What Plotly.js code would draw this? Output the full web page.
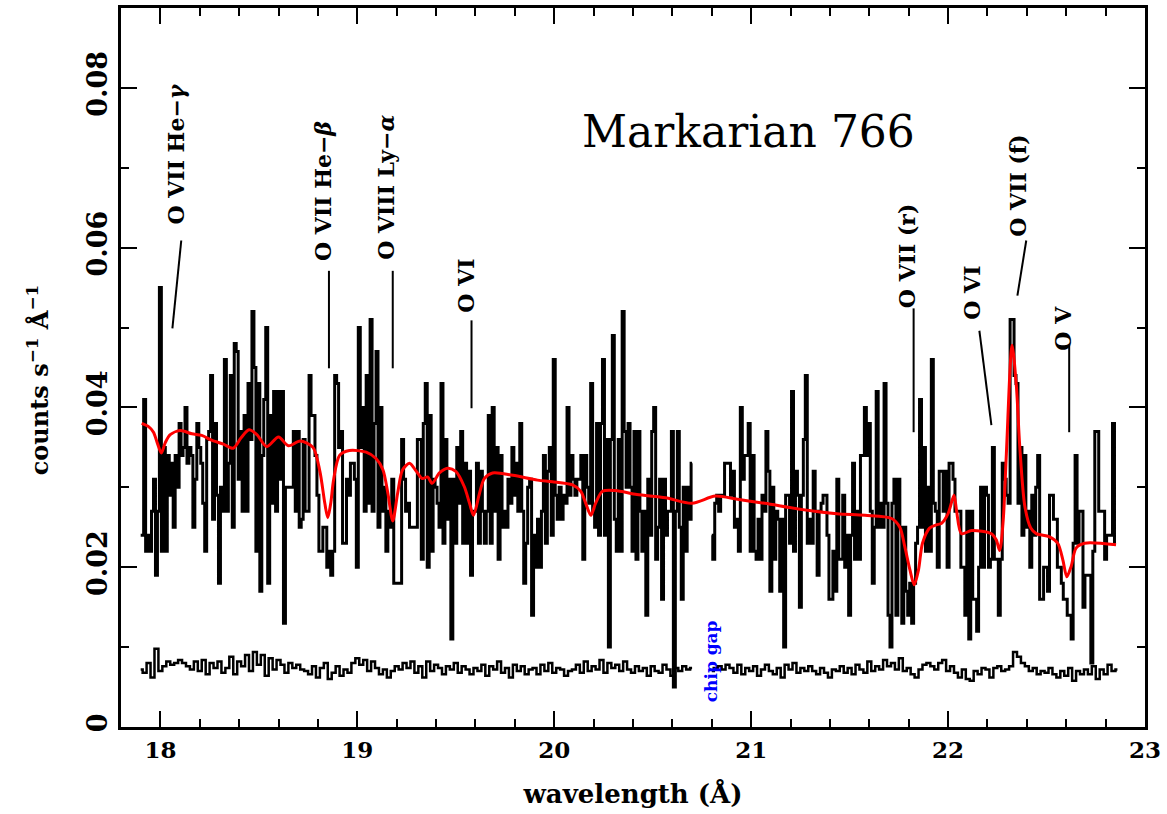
<!DOCTYPE html>
<html><head><meta charset="utf-8">
<script src="https://cdn.plot.ly/plotly-3.0.1.min.js"></script>
<style>html,body{margin:0;padding:0;background:#fff}#chart{width:1167px;height:814px}</style>
</head><body><div id="chart"></div>
<script>
// Source spectrum (counts s^-1 A^-1), bins of 0.01 A starting at 17.90 A
const specStart = 17.90, specStep = 0.01;
const spectrum = [
0.024,0.024,0.041,0.022,0.024,0.022,0.027,0.031,0.019,0.027,
0.055,0.022,0.035,0.022,0.034,0.029,0.033,0.025,0.034,0.030,
0.038,0.034,0.035,0.040,0.033,0.035,0.034,0.025,0.031,0.038,
0.035,0.033,0.028,0.022,0.036,0.037,0.044,0.026,0.038,0.029,
0.018,0.030,0.027,0.046,0.027,0.033,0.044,0.025,0.048,0.047,
0.031,0.037,0.027,0.039,0.027,0.043,0.036,0.052,0.045,0.022,
0.043,0.017,0.034,0.041,0.050,0.018,0.039,0.028,0.042,0.027,
0.042,0.031,0.042,0.013,0.030,0.030,0.030,0.030,0.037,0.027,
0.037,0.025,0.026,0.036,0.027,0.027,0.044,0.039,0.039,0.034,
0.029,0.022,0.022,0.025,0.025,0.020,0.022,0.019,0.022,0.044,
0.043,0.035,0.037,0.023,0.023,0.031,0.029,0.033,0.033,0.031,
0.020,0.050,0.035,0.040,0.027,0.044,0.028,0.051,0.027,0.038,
0.047,0.025,0.040,0.027,0.030,0.022,0.027,0.025,0.031,0.018,
0.018,0.018,0.018,0.036,0.031,0.027,0.028,0.025,0.025,0.025,
0.025,0.036,0.036,0.021,0.038,0.043,0.020,0.039,0.022,0.031,
0.030,0.028,0.025,0.043,0.023,0.036,0.026,0.031,0.011,0.031,
0.023,0.035,0.028,0.037,0.023,0.033,0.023,0.032,0.019,0.027,
0.027,0.033,0.023,0.032,0.027,0.023,0.027,0.039,0.023,0.040,
0.027,0.035,0.021,0.034,0.025,0.027,0.025,0.031,0.028,0.035,
0.029,0.033,0.027,0.038,0.027,0.018,0.023,0.030,0.031,0.014,
0.024,0.020,0.026,0.020,0.027,0.034,0.023,0.032,0.035,0.024,
0.046,0.029,0.026,0.030,0.026,0.029,0.028,0.040,0.029,0.034,
0.031,0.029,0.031,0.031,0.034,0.021,0.034,0.030,0.028,0.043,
0.027,0.025,0.038,0.024,0.038,0.046,0.024,0.036,0.010,0.036,
0.049,0.026,0.022,0.036,0.022,0.052,0.037,0.030,0.038,0.030,
0.022,0.037,0.021,0.037,0.027,0.022,0.027,0.014,0.031,0.024,
0.037,0.040,0.021,0.025,0.031,0.016,0.031,0.024,0.027,0.027,
0.037,0.005,0.027,0.037,0.025,0.016,0.030,0.022,0.030,0.026,
0.033,null,null,null,null,null,null,null,null,null,
0.024,0.021,0.028,0.029,0.027,0.029,0.029,0.033,0.033,0.033,
0.029,0.032,0.025,0.026,0.022,0.040,0.031,0.034,0.034,0.038,
0.022,0.034,0.022,0.021,0.026,0.021,0.029,0.027,0.037,0.032,
0.017,0.030,0.021,0.027,0.026,0.017,0.026,0.010,0.029,0.029,
0.023,0.042,0.022,0.032,0.029,0.015,0.029,0.036,0.044,0.023,
0.026,0.023,0.032,0.027,0.019,0.027,0.028,0.029,0.029,0.024,
0.016,0.016,0.022,0.017,0.031,0.021,0.021,0.029,0.020,0.024,
0.014,0.024,0.033,0.021,0.027,0.021,0.034,0.034,0.040,0.034,
0.038,0.027,0.018,0.025,0.042,0.025,0.028,0.025,0.043,0.028,
0.014,0.010,0.028,0.031,0.014,0.031,0.025,0.013,0.025,0.017,
0.014,0.018,0.013,0.018,0.023,0.025,0.041,0.025,0.035,0.022,
0.030,0.022,0.046,0.028,0.027,0.020,0.032,0.032,0.027,0.032,
0.020,0.033,0.033,0.031,0.027,0.027,0.027,0.020,0.020,0.014,
0.027,0.011,0.027,0.016,0.016,0.012,0.020,0.030,0.020,0.030,
0.029,0.020,0.021,0.035,0.021,0.021,0.014,0.021,0.033,0.031,
0.029,0.028,0.051,0.051,0.044,0.043,0.028,0.035,0.024,0.034,
0.025,0.027,0.020,0.029,0.024,0.030,0.034,0.016,0.016,0.020,
0.020,0.017,0.029,0.029,0.026,0.026,0.020,0.020,0.018,0.016,
0.016,0.014,0.014,0.011,0.023,0.034,0.023,0.027,0.027,0.015,
0.019,0.019,0.019,0.008,0.022,0.037,0.037,0.027,0.027,0.027,
0.021,0.024,0.024,0.024,0.038,0.023
];

// Background spectrum, bins of 0.02 A starting at 17.90 A
const bgStart = 17.90, bgStep = 0.02;
const background = [
0.0072,0.0068,0.0080,0.0062,0.0098,0.0070,0.0076,0.0082,0.0078,0.0080,
0.0084,0.0080,0.0076,0.0072,0.0082,0.0070,0.0084,0.0066,0.0080,0.0074,
0.0082,0.0068,0.0074,0.0088,0.0066,0.0082,0.0076,0.0090,0.0070,0.0094,
0.0078,0.0090,0.0064,0.0086,0.0072,0.0084,0.0078,0.0068,0.0080,0.0074,
0.0078,0.0072,0.0070,0.0066,0.0076,0.0062,0.0074,0.0080,0.0060,0.0068,
0.0076,0.0064,0.0072,0.0068,0.0080,0.0086,0.0078,0.0084,0.0070,0.0082,
0.0074,0.0066,0.0072,0.0062,0.0070,0.0076,0.0072,0.0080,0.0074,0.0082,
0.0068,0.0076,0.0062,0.0082,0.0070,0.0078,0.0074,0.0066,0.0076,0.0072,
0.0080,0.0068,0.0076,0.0072,0.0066,0.0074,0.0070,0.0078,0.0064,0.0076,
0.0072,0.0082,0.0068,0.0074,0.0062,0.0078,0.0070,0.0076,0.0066,0.0072,
0.0074,0.0066,0.0078,0.0070,0.0080,0.0068,0.0074,0.0072,0.0064,0.0070,
0.0072,0.0078,0.0068,0.0082,0.0070,0.0076,0.0072,0.0084,0.0068,0.0080,
0.0074,0.0078,0.0070,0.0082,0.0072,0.0068,0.0076,0.0070,0.0074,0.0064,
0.0076,0.0070,0.0068,0.0078,0.0072,0.0064,0.0074,0.0070,0.0076,0.0072,
0.0074,null,null,null,null,0.0070,0.0074,0.0076,0.0072,0.0078,
0.0074,0.0068,0.0078,0.0066,0.0074,0.0070,0.0076,0.0064,0.0072,0.0078,
0.0070,0.0066,0.0074,0.0062,0.0078,0.0072,0.0080,0.0068,0.0074,0.0070,
0.0076,0.0070,0.0066,0.0074,0.0068,0.0062,0.0072,0.0070,0.0076,0.0068,
0.0074,0.0066,0.0078,0.0072,0.0068,0.0082,0.0070,0.0076,0.0072,0.0084,
0.0076,0.0080,0.0072,0.0086,0.0070,0.0074,0.0066,0.0062,0.0072,0.0078,
0.0080,0.0076,0.0072,0.0080,0.0084,0.0070,0.0076,0.0068,0.0062,0.0072,
0.0060,0.0058,0.0070,0.0066,0.0074,0.0072,0.0062,0.0074,0.0076,0.0070,
0.0072,0.0076,0.0094,0.0088,0.0080,0.0076,0.0070,0.0074,0.0066,0.0070,
0.0068,0.0074,0.0066,0.0062,0.0070,0.0064,0.0074,0.0058,0.0070,0.0066,
0.0072,0.0066,0.0076,0.0060,0.0072,0.0066,0.0078,0.0070,0.0072
];

// Best-fit model (red curve)
const modelWave = [17.905,17.94,17.965,17.985,18.005,18.025,18.05,18.10,18.16,18.21,18.26,18.32,18.37,18.41,18.45,18.49,18.54,18.60,18.65,18.71,18.775,18.81,18.835,18.85,18.865,18.88,18.91,18.96,19.045,19.095,19.13,19.155,19.18,19.205,19.23,19.265,19.30,19.33,19.357,19.38,19.417,19.459,19.50,19.543,19.57,19.59,19.62,19.645,19.687,19.79,19.915,19.99,20.093,20.135,20.16,20.186,20.21,20.245,20.31,20.42,20.565,20.70,20.818,20.93,21.07,21.24,21.435,21.578,21.713,21.755,21.78,21.806,21.828,21.85,21.87,21.906,21.94,21.967,22.00,22.03,22.043,22.068,22.12,22.22,22.245,22.262,22.28,22.296,22.325,22.347,22.364,22.39,22.42,22.448,22.515,22.557,22.583,22.603,22.625,22.65,22.693,22.853];
const modelFlux = [0.0380,0.0376,0.0369,0.0355,0.0343,0.0356,0.0366,0.0371,0.0367,0.0365,0.0359,0.0354,0.0349,0.0362,0.0372,0.0366,0.0351,0.0363,0.0352,0.0358,0.0350,0.0320,0.0280,0.0262,0.0280,0.0310,0.0340,0.0346,0.0344,0.0336,0.0322,0.0293,0.0258,0.0293,0.0322,0.0330,0.0320,0.0311,0.0313,0.0305,0.0318,0.0324,0.0320,0.0301,0.0280,0.0265,0.0292,0.0311,0.0318,0.0315,0.0309,0.0307,0.0303,0.0295,0.0280,0.0265,0.0280,0.0295,0.0296,0.0291,0.0287,0.0280,0.0289,0.0285,0.0280,0.0273,0.0267,0.0265,0.0261,0.0250,0.0226,0.0197,0.0178,0.0197,0.0230,0.0249,0.0253,0.0255,0.0267,0.0290,0.0271,0.0242,0.0246,0.0242,0.0234,0.0221,0.0259,0.0342,0.0478,0.0426,0.0351,0.0276,0.0249,0.0242,0.0238,0.0230,0.0209,0.0188,0.0201,0.0224,0.0230,0.0228];

// Line identifications
const lineLabels = ["O VII He\u2212<i>\u03b3</i>","O VII He\u2212<i>\u03b2</i>","O VIII Ly\u2212<i>\u03b1</i>","O VI","O VII (r)","O VI","O VII (f)","O V"];
const labelWave = [18.081,18.826,19.145,19.55,21.789,22.124,22.357,22.585];
const labelFlux = [0.0717,0.0671,0.0676,0.0552,0.0590,0.0543,0.0678,0.0499];
const leaderTopWave = [18.106,18.856,19.180,19.580,21.825,22.159,22.397,22.615];
const leaderTopFlux = [0.0609,0.0571,0.0571,0.0509,0.0524,0.0496,0.0609,0.0478];
const leaderEndWave = [18.061,18.856,19.180,19.580,21.825,22.220,22.352,22.615];
const leaderEndFlux = [0.0499,0.0449,0.0449,0.0399,0.0369,0.0378,0.0540,0.0369];

const specX = spectrum.map((_, i) => specStart + specStep * i);
const bgX = background.map((_, i) => bgStart + bgStep * i);

const serif = "DejaVu Serif";
const traces = [
  {x: bgX, y: background, type: "scatter", mode: "lines", line: {shape: "hvh", color: "#000", width: 2.5}, connectgaps: false, hoverinfo: "skip"},
  {x: specX, y: spectrum, type: "scatter", mode: "lines", line: {shape: "hvh", color: "#000", width: 3}, connectgaps: false, hoverinfo: "skip"},
  {x: modelWave, y: modelFlux, type: "scatter", mode: "lines", line: {shape: "spline", smoothing: 0.8, color: "#ff0000", width: 3}, hoverinfo: "skip"}
];

const annotations = lineLabels.map((t, i) => ({
  x: labelWave[i], y: labelFlux[i], xref: "x", yref: "y", text: t, showarrow: false,
  textangle: -90, xanchor: "center", yanchor: "middle",
  font: {family: serif, size: 22, color: "#000", weight: "bold"}
}));
annotations.push({x: 20.985, y: 0.0746, xref: "x", yref: "y", text: "Markarian 766", showarrow: false,
  xanchor: "center", yanchor: "middle", font: {family: serif, size: 44, color: "#000"}});
annotations.push({x: 20.80, y: 0.0082, xref: "x", yref: "y", text: "chip gap", showarrow: false,
  textangle: -90, xanchor: "center", yanchor: "middle", font: {family: serif, size: 17, color: "#0000ff", weight: "bold"}});
// y-axis title placed as an annotation so it sits where the reference has it
annotations.push({x: -0.081, y: 0.0434, xref: "paper", yref: "y", text: "counts s<sup>\u22121</sup> \u00c5<sup>\u22121</sup>", showarrow: false,
  textangle: -90, xanchor: "center", yanchor: "middle", font: {family: serif, size: 24, color: "#000", weight: "bold"}});

const shapes = leaderTopWave.map((w, i) => ({
  type: "line", xref: "x", yref: "y", x0: w, y0: leaderTopFlux[i], x1: leaderEndWave[i], y1: leaderEndFlux[i],
  line: {color: "#000", width: 2}
}));

const layout = {
  width: 1167, height: 814,
  margin: {l: 121, r: 22, t: 8, b: 87},
  paper_bgcolor: "#fff", plot_bgcolor: "#fff",
  showlegend: false,
  xaxis: {
    range: [17.8, 23], dtick: 1, tick0: 18, ticks: "inside", ticklen: 16, tickwidth: 2, tickcolor: "#000",
    showline: true, linewidth: 3, linecolor: "#000", mirror: "ticks", showgrid: false, zeroline: false,
    minor: {dtick: 0.2, ticks: "inside", ticklen: 8, tickwidth: 2, tickcolor: "#000", showgrid: false},
    tickfont: {family: serif, size: 23, color: "#000", weight: "bold"},
    title: {text: "wavelength (\u00c5)", font: {family: serif, size: 26, color: "#000", weight: "bold"}, standoff: 24}
  },
  yaxis: {
    range: [0, 0.09], dtick: 0.02, tick0: 0, ticks: "inside", ticklen: 16, tickwidth: 2, tickcolor: "#000",
    showline: true, linewidth: 3, linecolor: "#000", mirror: "ticks", showgrid: false, zeroline: false,
    minor: {dtick: 0.01, ticks: "inside", ticklen: 8, tickwidth: 2, tickcolor: "#000", showgrid: false},
    tickangle: -90, tickformat: ".2~f",
    tickfont: {family: serif, size: 27, color: "#000", weight: "bold"}
  },
  annotations: annotations,
  shapes: shapes
};

Plotly.newPlot("chart", traces, layout, {staticPlot: true, displayModeBar: false});
</script>
</body></html>
